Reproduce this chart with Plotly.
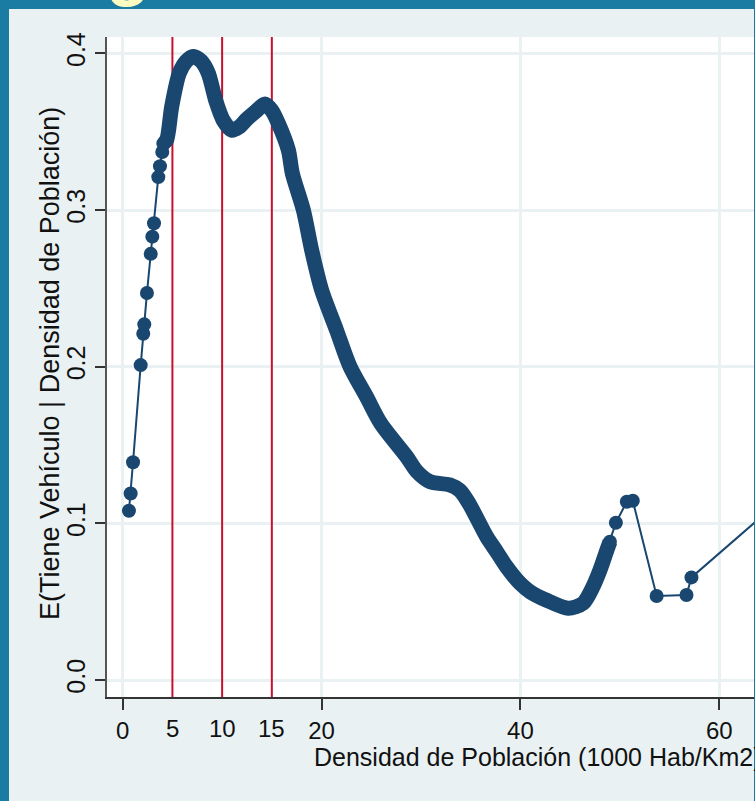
import plotly.graph_objects as go

# Conditional expectation curve: E(Tiene Vehículo | Densidad de Población)
densidad = [0.63, 0.80, 1.04, 1.81, 2.07, 2.17, 2.44, 2.82, 2.98, 3.15, 3.58, 3.75,
            3.98, 4.09, 4.42, 4.93, 5.69, 6.4, 7.1, 7.9, 8.61, 9.35, 10.1, 10.96,
            11.7, 12.47, 13.4, 14.31, 15.0, 15.65, 16.66, 17.06, 18.17, 19.0, 20.0,
            21.5, 22.86, 24.5, 25.95, 28.56, 29.6, 30.9, 32.9, 33.9, 34.8, 36.6,
            37.6, 38.6, 39.96, 40.96, 42.6, 44.8, 46.3, 47.3, 48.0, 48.7, 49.0,
            49.6, 50.7, 51.3, 53.7, 56.7, 57.2, 70.0]
prob_vehiculo = [0.108, 0.119, 0.139, 0.201, 0.221, 0.227, 0.247, 0.272, 0.283, 0.2915,
                 0.321, 0.328, 0.337, 0.3425, 0.3447, 0.366, 0.3873, 0.395, 0.398,
                 0.395, 0.3873, 0.370, 0.3574, 0.351, 0.353, 0.3579, 0.363, 0.3676,
                 0.3635, 0.3553, 0.3383, 0.3234, 0.300, 0.2745, 0.249, 0.2234, 0.200,
                 0.181, 0.1638, 0.1425, 0.133, 0.1266, 0.1245, 0.121, 0.113, 0.0915,
                 0.082, 0.0723, 0.0617, 0.0564, 0.051, 0.0458, 0.049, 0.0596, 0.0702,
                 0.083, 0.0883, 0.1004, 0.1138, 0.1144, 0.0536, 0.0543, 0.0655, 0.136]
# Index range where the observations are so dense the markers merge into a band
banda_ini, banda_fin = 13, 56

cortes = [5, 10, 15]
x_ticks = [0, 20, 40, 60]
y_ticks = [0.0, 0.1, 0.2, 0.3, 0.4]
y_tick_text = ["0.0", "0.1", "0.2", "0.3", "0.4"]

NAVY = "#1a476f"
RED = "#c8102e"
TEAL = "#1a7ca3"
BG = "#e9f1f3"
FONT = "Liberation Sans, Arial, sans-serif"
MK = 14

W, H = 755, 801
L, R, T, B = 107, 1, 37, 104
pw, ph = W - L - R, H - T - B


def px_x(p):
    return (p - L) / pw


def px_y(p):
    return (H - B - p) / ph


fig = go.Figure()

# vertical reference lines at the cut points
vx, vy = [], []
for c in cortes:
    vx += [c, c, None]
    vy += [-0.02, 0.42, None]
fig.add_trace(go.Scatter(x=vx, y=vy, mode="lines",
                         line=dict(color=RED, width=2), hoverinfo="skip"))

# dense part drawn as a thick band
fig.add_trace(go.Scatter(x=densidad[banda_ini:banda_fin + 1],
                         y=prob_vehiculo[banda_ini:banda_fin + 1],
                         mode="lines",
                         line=dict(color=NAVY, width=MK + 1, shape="spline", smoothing=0.8),
                         hoverinfo="skip"))

# connected scatter of all observations
fig.add_trace(go.Scatter(x=densidad, y=prob_vehiculo, mode="lines+markers",
                         line=dict(color=NAVY, width=2),
                         marker=dict(color=NAVY, size=MK, line=dict(width=0))))

fig.update_layout(
    width=W, height=H,
    margin=dict(l=L, r=R, t=T, b=B, pad=0),
    paper_bgcolor=BG, plot_bgcolor="white",
    showlegend=False,
    font=dict(family=FONT, color="#111111"),
    xaxis=dict(range=[-1.578, 63.49],
               tickvals=x_ticks, ticktext=[str(v) for v in x_ticks],
               ticks="outside", ticklen=11, tickwidth=1.5, tickcolor="#333333",
               tickfont=dict(size=24, family=FONT, color="#111111"),
               showgrid=True, gridcolor=BG, gridwidth=2.5,
               zeroline=False, showline=True, linecolor="#333333", linewidth=1.5),
    yaxis=dict(range=[-0.01085, 0.41043],
               tickvals=y_ticks, ticktext=y_tick_text, tickangle=-90,
               ticks="outside", ticklen=10, tickwidth=1.5, tickcolor="#333333",
               tickfont=dict(size=25, family=FONT, color="#111111"),
               showgrid=True, gridcolor=BG, gridwidth=2.5,
               zeroline=False, showline=True, linecolor="#555555", linewidth=1.5),
)

# slide frame
fig.add_shape(type="rect", xref="paper", yref="paper", layer="below",
              x0=px_x(-5), x1=px_x(9), y0=px_y(H + 5), y1=px_y(-5),
              fillcolor=TEAL, line=dict(width=0))
fig.add_shape(type="rect", xref="paper", yref="paper", layer="below",
              x0=px_x(-5), x1=px_x(W + 5), y0=px_y(9), y1=px_y(-5),
              fillcolor=TEAL, line=dict(width=0))
fig.add_shape(type="rect", xref="paper", yref="paper", layer="above",
              x0=px_x(754), x1=px_x(W + 5), y0=px_y(H + 5), y1=px_y(-5),
              fillcolor=TEAL, line=dict(width=0))

# labels for the cut points
for c, pos in zip(cortes, [728, 728, 728]):
    fig.add_annotation(x=c, xref="x", y=px_y(pos), yref="paper",
                       text=str(c), showarrow=False, xanchor="center",
                       yanchor="middle",
                       font=dict(size=24, family=FONT, color="#111111"))

# axis titles
fig.add_annotation(x=px_x(312), xref="paper", y=px_y(757), yref="paper",
                   text="Densidad de Población (1000 Hab/Km2)", showarrow=False,
                   xanchor="left", yanchor="middle",
                   font=dict(size=25, family=FONT, color="#111111"))
fig.add_annotation(x=px_x(50), xref="paper", y=px_y(364), yref="paper",
                   text="E(Tiene Vehículo | Densidad de Población)",
                   textangle=-90, showarrow=False,
                   xanchor="center", yanchor="middle",
                   font=dict(size=27, family=FONT, color="#111111"))

# slide heading letter peeking in at the top
fig.add_annotation(x=px_x(128), xref="paper", y=px_y(9), yref="paper",
                   text="<b>g</b>", showarrow=False,
                   xanchor="center", yanchor="bottom",
                   font=dict(size=72, family=FONT, color="#fdfdc2"))

fig.write_html("out.html")
